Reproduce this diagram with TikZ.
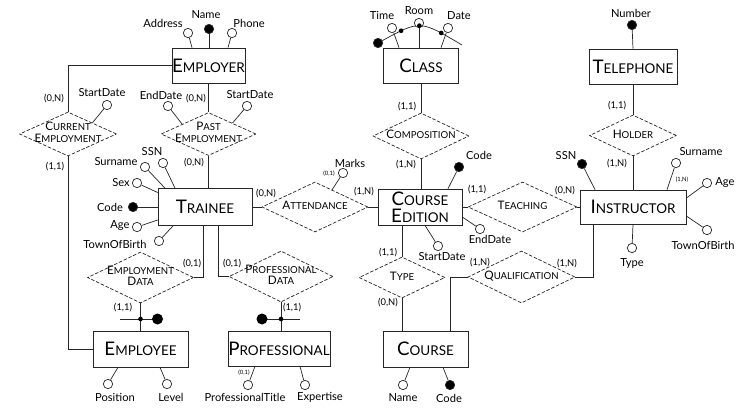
\documentclass[tikz,border=0pt]{standalone}
\usepackage{fontspec}
\setmainfont{Lato}
\usetikzlibrary{shapes.geometric,calc}

\newcommand{\entnm}[2]{{\fontsize{16}{18}\selectfont #1}{\fontsize{11.5}{14}\selectfont #2}}
\newcommand{\relnm}[2]{{\fontsize{10}{10}\selectfont #1}{\fontsize{8.2}{10}\selectfont #2}}
\newcommand{\rtext}[1]{\makebox[0pt]{\fontsize{9}{8.8}\selectfont\begin{tabular}{@{}c@{}}#1\end{tabular}}}

\tikzset{
  entity/.style={draw, rectangle, inner sep=0pt, minimum width=#1, minimum height=1.05cm},
  relation/.style 2 args={draw, diamond, dash pattern=on 3pt off 1.5pt, inner sep=0pt,
    minimum width=#1, minimum height=#2},
  attr/.style={draw, circle, fill=white, inner sep=0pt, minimum size=0.28cm},
  keyattr/.style={attr, fill=black},
  bardot/.style={circle, fill=black, inner sep=0pt, minimum size=4pt},
  bigdot/.style={circle, fill=black, inner sep=0pt, minimum size=0.33cm},
  lbl/.style={inner sep=0pt, font=\fontsize{9.5}{10}\selectfont},
  card/.style={inner sep=0pt, font=\fontsize{8}{8}\selectfont},
  tinycard/.style={inner sep=0pt, font=\fontsize{5}{6}\selectfont},
}

\begin{document}
\begin{tikzpicture}[x=0.03cm, y=-0.03cm, line width=0.6pt, draw=black!85]
\useasboundingbox (0,0) rectangle (738,408);

%%%%entities
\node[entity=2.19cm] (employer) at (208.5,65.5) {\entnm{E}{MPLOYER}};
\node[entity=2.82cm, minimum height=1.11cm] (trainee) at (205,207) {\entnm{T}{RAINEE}};
\node[entity=2.85cm, minimum height=1.08cm] (employee) at (140.5,349) {\entnm{E}{MPLOYEE}};
\node[entity=3.06cm] (professional) at (279,348.5) {\entnm{P}{ROFESSIONAL}};
\node[entity=2.25cm] (class) at (421,65.5) {\entnm{C}{LASS}};
\node[entity=2.52cm, minimum height=1.08cm, align=center, font=\fontsize{11}{14.5}\selectfont]
  (cedition) at (420,207) {\entnm{C}{OURSE}\\\entnm{E}{DITION}};
\node[entity=2.55cm, minimum height=1.08cm] (course) at (425.5,349) {\entnm{C}{OURSE}};
\node[entity=2.64cm] (telephone) at (633,66.5) {\entnm{T}{ELEPHONE}};
\node[entity=3.18cm, minimum height=1.02cm] (instructor) at (633,207) {\entnm{I}{NSTRUCTOR}};

%%%%relationships
\node[relation={2.91cm}{1.32cm}] (curemp) at (68,134) {\rtext{\relnm{C}{URRENT}\\\relnm{E}{MPLOYMENT}}};
\node[relation={2.85cm}{1.29cm}] (pastemp) at (208.5,134) {\rtext{\relnm{P}{AST}\\\relnm{E}{MPLOYMENT}}};
\node[relation={3.18cm}{1.5cm}] (attend) at (315,207) {\rtext{\relnm{A}{TTENDANCE}}};
\node[relation={2.88cm}{1.38cm}] (comp) at (421,136) {\rtext{\relnm{C}{OMPOSITION}}};
\node[relation={3.27cm}{1.5cm}] (teach) at (522.5,207) {\rtext{\relnm{T}{EACHING}}};
\node[relation={2.61cm}{1.23cm}] (holder) at (633,135.5) {\rtext{\relnm{H}{OLDER}}};
\node[relation={3.18cm}{1.53cm}] (empdata) at (140.5,277.5) {\rtext{\relnm{E}{MPLOYMENT}\\\relnm{D}{ATA}}};
\node[relation={3.12cm}{1.53cm}] (profdata) at (281,276.5) {\rtext{\relnm{P}{ROFESSIONAL}\\\relnm{D}{ATA}}};
\node[relation={2.58cm}{1.23cm}] (type) at (402,277.5) {\rtext{\relnm{T}{YPE}}};
\node[relation={3.21cm}{1.56cm}] (qual) at (521.5,277) {\rtext{\relnm{Q}{UALIFICATION}}};

%%%%links
\draw (employer.west) -| (curemp.north);
\draw (employer.south) -- (pastemp.north);
\draw (curemp.south) |- (employee.west);
\draw (pastemp.south) -- (pastemp.south |- trainee.north);
\draw (trainee.east) -- (attend.west);
\draw (attend.east) -- (cedition.west);
\draw ($(trainee.south)+(-2,0)$) |- (empdata.east);
\draw ($(trainee.south)+(13,0)$) |- (profdata.west);
\draw (empdata.south) -- (employee.north);
\draw (profdata.south) -- (profdata.south |- professional.north);
\draw (class.south) -- (comp.north);
\draw (comp.south) -- (comp.south |- cedition.north);
\draw (cedition.east) -- (teach.west);
\draw (teach.east) -- (instructor.west);
\draw (telephone.south) -- (holder.north);
\draw (holder.south) -- (instructor.north);
\draw ($(cedition.south)+(-18,0)$) -- (type.north);
\draw (type.south) -- (type.south |- course.north);
\draw ($(course.north)+(24.5,0)$) |- (qual.west);
\draw (qual.east) -| ($(instructor.south)+(-40,0)$);

%%%%cardinalities
\node[card] (k-emp-cur) at (54,99) {(0,N)};
\node[card] (k-emp-past) at (196,99) {(0,N)};
\node[card] (k-cur-ee) at (55,167) {(1,1)};
\node[card] (k-past-tr) at (194,163) {(0,N)};
\node[card] (k-tr-att) at (266,194) {(0,N)};
\node[card] (k-att-ce) at (364,192) {(1,N)};
\node[card] (k-tr-ed) at (192,264) {(0,1)};
\node[card] (k-tr-pd) at (232,264) {(0,1)};
\node[card] (k-ed-ee) at (123,308) {(1,1)};
\node[card] (k-pd-pr) at (292,308) {(1,1)};
\node[card] (k-cl-co) at (407,107) {(1,1)};
\node[card] (k-co-ce) at (406,165) {(1,N)};
\node[card] (k-ce-te) at (477,190) {(1,1)};
\node[card] (k-te-in) at (565,191) {(0,N)};
\node[card] (k-tel-ho) at (617,106) {(1,1)};
\node[card] (k-ho-in) at (617,164) {(1,N)};
\node[card] (k-ce-ty) at (388,253) {(1,1)};
\node[card] (k-ty-co) at (388,303) {(0,N)};
\node[card] (k-co-qu) at (480,263) {(1,N)};
\node[card] (k-qu-in) at (567,264) {(1,N)};

%%%%identifier bars
\coordinate (ebar) at (140.5,319);
\draw ($(ebar)+(-20.5,0)$) -- ($(ebar)+(17,0)$);
\node[bardot] (edot) at (ebar) {};
\node[bigdot] (eid) at ($(ebar)+(17,0)$) {};
\coordinate (pbar) at (281,319);
\draw ($(pbar)+(-19,0)$) -- ($(pbar)+(19,0)$);
\node[bardot] (pdot) at (pbar) {};
\node[bigdot] (pid) at ($(pbar)+(-19,0)$) {};

%%%%employer attributes
\node[attr] (a-addr) at (188,33) {};
\node[keyattr] (a-ename) at (209,29) {};
\node[attr] (a-phone) at (232,33) {};
\node[lbl] (l-addr) at (163,23) {Address};
\node[lbl] (l-ename) at (206,15) {Name};
\node[lbl] (l-phone) at (249,23) {Phone};
\draw (a-addr) -- ($(employer.north)+(-16.5,0)$);
\draw (a-ename) -- ($(employer.north)+(0.5,0)$);
\draw (a-phone) -- ($(employer.north)+(19.5,0)$);

%%%%employment attributes
\node[attr] (a-cstart) at (107,105) {};
\node[lbl] (l-cstart) at (102,93) {StartDate};
\draw (a-cstart) -- ($(curemp.north)!0.5!(curemp.east)$);
\node[attr] (a-pend) at (168,106) {};
\node[lbl] (l-pend) at (161,95) {EndDate};
\draw (a-pend) -- ($(pastemp.west)!0.45!(pastemp.north)$);
\node[attr] (a-pstart) at (247,106) {};
\node[lbl] (l-pstart) at (250,95) {StartDate};
\draw (a-pstart) -- ($(pastemp.north)!0.5!(pastemp.east)$);

%%%%trainee attributes
\node[attr] (a-tssn) at (163,163) {};
\node[attr] (a-tsurname) at (145,167) {};
\node[attr] (a-tsex) at (137,183) {};
\node[keyattr] (a-tcode) at (133,207) {};
\node[attr] (a-tage) at (137,227) {};
\node[attr] (a-ttown) at (159,241) {};
\node[lbl] (l-tssn) at (152,152) {SSN};
\node[lbl] (l-tsurname) at (116,162) {Surname};
\node[lbl] (l-tsex) at (121,183) {Sex};
\node[lbl] (l-tcode) at (110,207) {Code};
\node[lbl] (l-tage) at (120,226) {Age};
\node[lbl] (l-ttown) at (115,244) {TownOfBirth};
\draw (a-tssn) -- ($(trainee.north)+(-30,0)$);
\draw (a-tsurname) -- ($(trainee.north)+(-40,0)$);
\draw (a-tsex) -- ($(trainee.west)+(0,-14.5)$);
\draw (a-tcode) -- (trainee.west);
\draw (a-tage) -- ($(trainee.west)+(0,13)$);
\draw (a-ttown) -- ($(trainee.south)+(-32,0)$);

%%%%employee and professional attributes
\node[attr] (a-pos) at (108,384) {};
\node[attr] (a-level) at (167,384) {};
\node[lbl] (l-pos) at (115,397) {Position};
\node[lbl] (l-level) at (171,397) {Level};
\draw (a-pos) -- ($(employee.south)+(-22.5,0)$);
\draw (a-level) -- ($(employee.south)+(19.5,0)$);
\node[attr] (a-ptitle) at (248,385) {};
\node[attr] (a-expert) at (305,385) {};
\node[tinycard] (k-ptitle) at (244,373) {(0,1)};
\node[lbl] (l-ptitle) at (245,397) {ProfessionalTitle};
\node[lbl] (l-expert) at (320,397) {Expertise};
\draw (a-ptitle) -- ($(professional.south)+(-24,0)$);
\draw (a-expert) -- ($(professional.south)+(21,0)$);

%%%%class attributes and identifier
\node[keyattr] (clid) at (378,43) {};
\coordinate (clend) at (462,45);
\draw (clid) .. controls (420,20) .. (clend)
  coordinate[pos=0.2] (dtime) coordinate[pos=0.48] (droom) coordinate[pos=0.8] (ddate);
\node[attr] (a-time) at (392,28) {};
\node[attr] (a-room) at (419,23) {};
\node[attr] (a-date) at (448,28) {};
\node[lbl] (l-time) at (382,15) {Time};
\node[lbl] (l-room) at (419,11) {Room};
\node[lbl] (l-date) at (459,16) {Date};
\draw (a-time) -- ($(class.north)+(-22,0)$);
\draw (a-room) -- ($(class.north)+(-2,0)$);
\draw (a-date) -- ($(class.north)+(20,0)$);
\node[bardot] (tdot) at (dtime) {};
\node[bardot] (rdot) at (droom) {};
\node[bardot] (ddot) at (ddate) {};

%%%%course edition attributes
\node[keyattr] (a-cecode) at (459,167) {};
\node[attr] (a-ceend) at (480,229) {};
\node[attr] (a-cestart) at (438,246) {};
\node[lbl] (l-cecode) at (479,155) {Code};
\node[lbl] (l-ceend) at (490,239) {EndDate};
\node[lbl] (l-cestart) at (442,257) {StartDate};
\draw (a-cecode) -- ($(cedition.north)+(28,0)$);
\draw (a-ceend) -- ($(cedition.east)+(0,10)$);
\draw (a-cestart) -- ($(cedition.south)+(5,0)$);
\node[attr] (a-marks) at (343,173) {};
\node[lbl] (l-marks) at (350,163) {Marks};
\node[tinycard] (k-marks) at (329,174) {(0,1)};
\draw (a-marks) -- ($(attend.north)!0.32!(attend.east)$);

%%%%course attributes
\node[attr] (a-cname) at (403,385) {};
\node[keyattr] (a-ccode) at (450,385) {};
\node[lbl] (l-cname) at (403,398) {Name};
\node[lbl] (l-ccode) at (449,398) {Code};
\draw (a-cname) -- ($(course.south)+(-15.5,0)$);
\draw (a-ccode) -- ($(course.south)+(17.5,0)$);

%%%%telephone and instructor attributes
\node[keyattr] (a-number) at (632,25) {};
\node[lbl] (l-number) at (631,13) {Number};
\draw (a-number) -- (telephone.north);
\node[keyattr] (a-issn) at (582,164) {};
\node[attr] (a-isurname) at (676,163) {};
\node[attr] (a-iage) at (707,183) {};
\node[attr] (a-itown) at (707,230) {};
\node[attr] (a-itype) at (632,248) {};
\node[lbl] (l-issn) at (566,156) {SSN};
\node[lbl] (l-isurname) at (701,152) {Surname};
\node[tinycard] (k-isurname) at (682,180) {(1,N)};
\node[lbl] (l-iage) at (725,183) {Age};
\node[lbl] (l-itown) at (703,245) {TownOfBirth};
\node[lbl] (l-itype) at (632,263) {Type};
\draw (a-issn) -- ($(instructor.north)+(-38,0)$);
\draw (a-isurname) -- ($(instructor.north)+(34,0)$);
\draw (a-iage) -- ($(instructor.east)+(0,-9)$);
\draw (a-itown) -- ($(instructor.east)+(0,9)$);
\draw (a-itype) -- (instructor.south);

\end{tikzpicture}
\end{document}
